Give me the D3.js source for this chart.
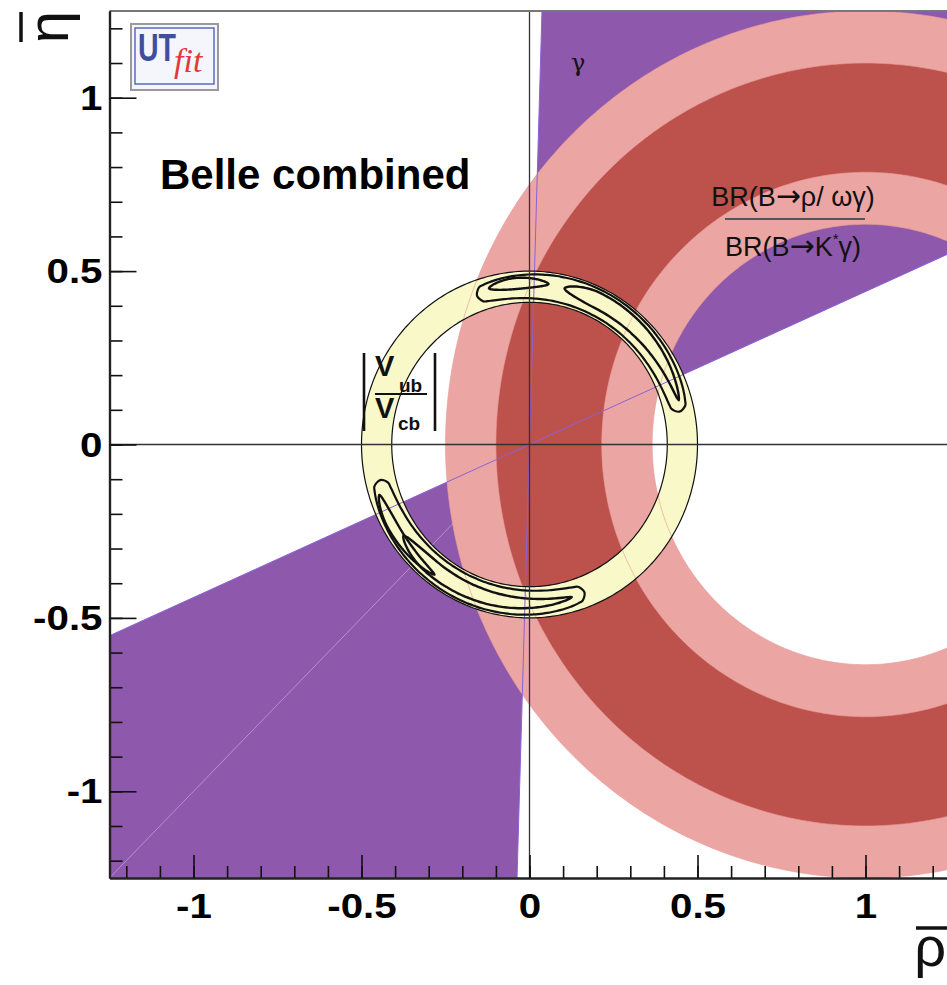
<!DOCTYPE html>
<html><head><meta charset="utf-8">
<script src="https://cdn.jsdelivr.net/npm/d3@7"></script>
<style>html,body{margin:0;padding:0;background:#fff;overflow:hidden}</style>
</head><body>
<svg id="chart" width="947" height="985"></svg>
<script>
// ---------------- data ----------------
const xDomain = [-1.25, 1.25];
const yDomain = [-1.25, 1.25];
const xMajorTicks = [-1, -0.5, 0, 0.5, 1];
const yMajorTicks = [-1, -0.5, 0, 0.5, 1];
const minorTicks = [-1.2,-1.1,-1.0,-0.9,-0.8,-0.7,-0.6,-0.5,-0.4,-0.3,-0.2,-0.1,0,0.1,0.2,0.3,0.4,0.5,0.6,0.7,0.8,0.9,1.0,1.1,1.2];
// gamma constraint: wedge edges (degrees from rho axis), double solution through origin
const gammaEdgesDeg = [23.8, 88.3];
// BR(B->rho/omega gamma)/BR(B->K* gamma): ring centred at (1,0)
const brCenter = [1, 0];
const brBand95 = [0.635, 1.25];
const brBand68 = [0.785, 1.10];
// |Vub/Vcb|: ring centred at origin
const vubCenter = [0, 0];
const vubBand = [0.41, 0.50];
// combined fit contours (angles in degrees, radii in rho-eta units)
const contour95 = [
  {from: 110, to: 12,  rMid: 0.456, halfWidth: 0.038, peak: 0.5,  blunt: 0.2},
  {from: 193, to: 291, rMid: 0.456, halfWidth: 0.038, peak: 0.5,  blunt: 0.2}
];
const contour68 = [
  {from: 105, to: 83,  rMid: 0.466, halfWidth: 0.016, peak: 0.45, blunt: 0.6},
  {from: 77,  to: 16,  rMid: 0.462, halfWidth: 0.023, peak: 0.22, blunt: 0.6},
  {from: 198, to: 233, rMid: 0.470, halfWidth: 0.015, peak: 0.35, blunt: 0.6},
  {from: 215, to: 286, rMid: 0.458, halfWidth: 0.022, peak: 0.22, blunt: 0.6}
];

// ---------------- colours ----------------
const C = {
  purple: '#8e58ad', purpleLine: '#8a62d6',
  pink: '#eba6a4', red: '#bd514c', yellow: '#f9f8c8'
};

const svg = d3.select('#chart');
const x = d3.scaleLinear().domain(xDomain).range([109.5, 949.5]);
const y = d3.scaleLinear().domain(yDomain).range([878, 11]);

svg.append('defs').append('clipPath').attr('id','plotclip')
  .append('rect').attr('x', x(xDomain[0])).attr('y', y(yDomain[1]))
  .attr('width', x(xDomain[1]) - x(xDomain[0])).attr('height', y(yDomain[0]) - y(yDomain[1]));

const plot = svg.append('g').attr('clip-path','url(#plotclip)');

const rad = d => d * Math.PI / 180;
function circlePts(c, r) {
  const pts = [];
  for (let a = 0; a < 360; a += 1) pts.push([x(c[0] + r*Math.cos(rad(a))), y(c[1] + r*Math.sin(rad(a)))]);
  return pts;
}
function closedPath(pts) { return 'M' + pts.map(p => p[0].toFixed(2)+','+p[1].toFixed(2)).join('L') + 'Z'; }
function ringPath(c, band) { return closedPath(circlePts(c, band[0])) + closedPath(circlePts(c, band[1])); }

// gamma wedges
const R = 4;
[0, 180].forEach(off => {
  const pts = [[x(0), y(0)]];
  for (let a = gammaEdgesDeg[0]; a <= gammaEdgesDeg[1] + 1e-9; a += (gammaEdgesDeg[1]-gammaEdgesDeg[0])/30) {
    pts.push([x(R*Math.cos(rad(a+off))), y(R*Math.sin(rad(a+off)))]);
  }
  plot.append('path').attr('d', closedPath(pts)).attr('fill', C.purple);
});
// faint line in lower wedge
plot.append('line').attr('x1', x(0)).attr('y1', y(0)).attr('x2', x(-1.25)).attr('y2', y(-1.25))
  .attr('stroke', 'rgba(255,255,255,0.35)').attr('stroke-width', 1);

// BR rings
plot.append('path').attr('d', ringPath(brCenter, brBand95)).attr('fill', C.pink).attr('fill-rule','evenodd');
plot.append('path').attr('d', ringPath(brCenter, brBand68)).attr('fill', C.red).attr('fill-rule','evenodd');

// Vub/Vcb ring
plot.append('path').attr('d', ringPath(vubCenter, vubBand)).attr('fill', C.yellow).attr('fill-rule','evenodd');

// ring edges re-drawn thinly above the yellow band
[...brBand95, ...brBand68].forEach(r => {
  plot.append('path').attr('d', closedPath(circlePts(brCenter, r))).attr('fill','none')
    .attr('stroke', '#e99a98').attr('stroke-width', 0.8).attr('opacity', 0.8);
});
// gamma edge lines
gammaEdgesDeg.forEach(a => {
  plot.append('line')
    .attr('x1', x(-R*Math.cos(rad(a)))).attr('y1', y(-R*Math.sin(rad(a))))
    .attr('x2', x(R*Math.cos(rad(a)))).attr('y2', y(R*Math.sin(rad(a))))
    .attr('stroke', C.purpleLine).attr('stroke-width', 1);
});
// yellow ring outlines
vubBand.forEach(r => {
  plot.append('path').attr('d', closedPath(circlePts(vubCenter, r))).attr('fill','none')
    .attr('stroke', '#111').attr('stroke-width', 1.2);
});

// contours
const smooth = d3.line().curve(d3.curveCatmullRomClosed);
function contourPts(c) {
  const N = 60, outer = [], inner = [];
  for (let i = 0; i <= N; i++) {
    const t = i / N;
    const s = t < c.peak ? t / c.peak : (1 - t) / (1 - c.peak);
    const w = c.halfWidth * Math.pow(Math.max(0, Math.sin(Math.PI/2 * s)), c.blunt);
    const a = rad(c.from + (c.to - c.from) * t);
    outer.push([x((c.rMid + w) * Math.cos(a)), y((c.rMid + w) * Math.sin(a))]);
    inner.push([x((c.rMid - w) * Math.cos(a)), y((c.rMid - w) * Math.sin(a))]);
  }
  return outer.concat(inner.reverse().slice(1, -1));
}
contour95.forEach(c => plot.append('path').attr('d', smooth(contourPts(c)))
  .attr('fill','none').attr('stroke','#111').attr('stroke-width', 2.2));
contour68.forEach(c => plot.append('path').attr('d', smooth(contourPts(c)))
  .attr('fill','none').attr('stroke','#111').attr('stroke-width', 2.4));

// axes through origin
plot.append('line').attr('x1', x(xDomain[0])).attr('x2', x(xDomain[1])).attr('y1', y(0)).attr('y2', y(0))
  .attr('stroke', '#333').attr('stroke-width', 1.3);
plot.append('line').attr('x1', x(0)).attr('x2', x(0)).attr('y1', y(yDomain[0])).attr('y2', y(yDomain[1]))
  .attr('stroke', '#333').attr('stroke-width', 1.3);

// frame top/right
svg.append('line').attr('x1', x(xDomain[0])).attr('x2', x(xDomain[1])).attr('y1', y(yDomain[1])).attr('y2', y(yDomain[1]))
  .attr('stroke', '#777').attr('stroke-width', 2);
svg.append('line').attr('x1', x(xDomain[1])).attr('x2', x(xDomain[1])).attr('y1', y(yDomain[0])).attr('y2', y(yDomain[1]))
  .attr('stroke', '#777').attr('stroke-width', 2);

// axes
const fmt = d => String(d);
const gxMinor = svg.append('g').attr('transform', `translate(0,${y(yDomain[0])})`)
  .call(d3.axisBottom(x).tickValues(minorTicks).tickSizeInner(-12).tickSizeOuter(0).tickFormat(''));
const gx = svg.append('g').attr('transform', `translate(0,${y(yDomain[0])})`)
  .call(d3.axisBottom(x).tickValues(xMajorTicks).tickSizeInner(-23).tickSizeOuter(0).tickPadding(14).tickFormat(fmt));
const gyMinor = svg.append('g').attr('transform', `translate(${x(xDomain[0])},0)`)
  .call(d3.axisLeft(y).tickValues(minorTicks).tickSizeInner(-13).tickSizeOuter(0).tickFormat(''));
const gy = svg.append('g').attr('transform', `translate(${x(xDomain[0])},0)`)
  .call(d3.axisLeft(y).tickValues(yMajorTicks).tickSizeInner(-27).tickSizeOuter(0).tickPadding(7).tickFormat(fmt));
[gxMinor, gx, gyMinor, gy].forEach(g => {
  g.select('.domain').attr('stroke', '#222').attr('stroke-width', 2.2);
  g.selectAll('.tick line').attr('stroke', '#111').attr('stroke-width', 1.6);
});
[gx, gy].forEach(g => g.selectAll('.tick text')
  .attr('font-family', '"Liberation Sans", Arial, sans-serif').attr('font-weight', 'bold')
  .attr('font-size', 36).attr('fill', '#000'));
gx.selectAll('.tick text').attr('transform', 'scale(1.12,1)');
gy.selectAll('.tick text').attr('transform', 'scale(1.12,1)').attr('x', -7/1.12);

// axis titles
svg.append('text').attr('transform', 'translate(68,11) rotate(-90)').attr('text-anchor', 'end')
  .attr('font-family', '"Liberation Sans", Arial, sans-serif').attr('font-size', 58).attr('fill', '#111').text('η');
svg.append('line').attr('x1', 21).attr('x2', 21).attr('y1', 12).attr('y2', 42).attr('stroke', '#111').attr('stroke-width', 3.5);
svg.append('text').attr('x', 946).attr('y', 966).attr('text-anchor', 'end')
  .attr('font-family', '"Liberation Sans", Arial, sans-serif').attr('font-size', 56).attr('fill', '#111').text('ρ');
svg.append('line').attr('x1', 916).attr('x2', 947).attr('y1', 928).attr('y2', 928).attr('stroke', '#111').attr('stroke-width', 3.5);

// logo
const logo = svg.append('g');
logo.append('rect').attr('x', 131).attr('y', 24).attr('width', 87).attr('height', 66)
  .attr('fill', '#f4f6fb').attr('stroke', '#9a9a9a').attr('stroke-width', 2);
logo.append('rect').attr('x', 135).attr('y', 28).attr('width', 79).attr('height', 56)
  .attr('fill', 'none').attr('stroke', '#5a6cc0').attr('stroke-width', 1.5);
logo.append('text').attr('x', 138).attr('y', 61).attr('transform', 'translate(138,0) scale(0.75,1) translate(-138,0)')
  .attr('font-family', '"Liberation Sans", Arial, sans-serif').attr('font-weight', 'bold').attr('font-size', 38).attr('fill', '#3d4f9e').text('UT');
logo.append('text').attr('x', 174).attr('y', 72)
  .attr('font-family', '"Liberation Serif", "Times New Roman", serif').attr('font-style', 'italic')
  .attr('font-size', 34).attr('fill', '#e0393b').text('fit');

// Belle combined
svg.append('text').attr('x', 160).attr('y', 189)
  .attr('font-family', '"Liberation Sans", Arial, sans-serif').attr('font-weight', 'bold')
  .attr('font-size', 42).attr('fill', '#000').text('Belle combined');

// gamma label
svg.append('text').attr('x', 571).attr('y', 71)
  .attr('font-family', '"DejaVu Serif", serif').attr('font-size', 24).attr('fill', '#111').text('γ');

// BR ratio label
const brF = '"Liberation Sans", Arial, sans-serif';
const arrowF = '"DejaVu Sans", sans-serif';
const num = svg.append('text').attr('x', 793).attr('y', 206).attr('text-anchor', 'middle')
  .attr('font-family', brF).attr('font-size', 27).attr('fill', '#111');
num.append('tspan').text('BR(B');
num.append('tspan').attr('font-family', arrowF).attr('font-size', 30).text('→');
num.append('tspan').text('ρ/ ωγ)');
svg.append('line').attr('x1', 725).attr('x2', 865).attr('y1', 219).attr('y2', 219).attr('stroke', '#555').attr('stroke-width', 2);
const den = svg.append('text').attr('x', 793).attr('y', 256).attr('text-anchor', 'middle')
  .attr('font-family', brF).attr('font-size', 27).attr('fill', '#111');
den.append('tspan').text('BR(B');
den.append('tspan').attr('font-family', arrowF).attr('font-size', 30).text('→');
den.append('tspan').text('K');
den.append('tspan').attr('dy', -12).attr('font-size', 15).text('*');
den.append('tspan').attr('dy', 12).text('γ)');

// |Vub/Vcb| label
const vF = '"Liberation Sans", Arial, sans-serif';
svg.append('line').attr('x1', 364).attr('x2', 364).attr('y1', 353).attr('y2', 431).attr('stroke', '#111').attr('stroke-width', 2.6);
svg.append('line').attr('x1', 435).attr('x2', 435).attr('y1', 353).attr('y2', 431).attr('stroke', '#111').attr('stroke-width', 2.6);
svg.append('text').attr('x', 375).attr('y', 376).attr('font-family', vF).attr('font-weight', 'bold').attr('font-size', 29).attr('fill', '#111').text('V');
svg.append('text').attr('x', 399).attr('y', 392).attr('font-family', vF).attr('font-weight', 'bold').attr('font-size', 19).attr('fill', '#111').text('ub');
svg.append('line').attr('x1', 375).attr('x2', 427).attr('y1', 394).attr('y2', 394).attr('stroke', '#111').attr('stroke-width', 2);
svg.append('text').attr('x', 375).attr('y', 418).attr('font-family', vF).attr('font-weight', 'bold').attr('font-size', 29).attr('fill', '#111').text('V');
svg.append('text').attr('x', 398).attr('y', 430).attr('font-family', vF).attr('font-weight', 'bold').attr('font-size', 19).attr('fill', '#111').text('cb');
</script>
</body></html>
